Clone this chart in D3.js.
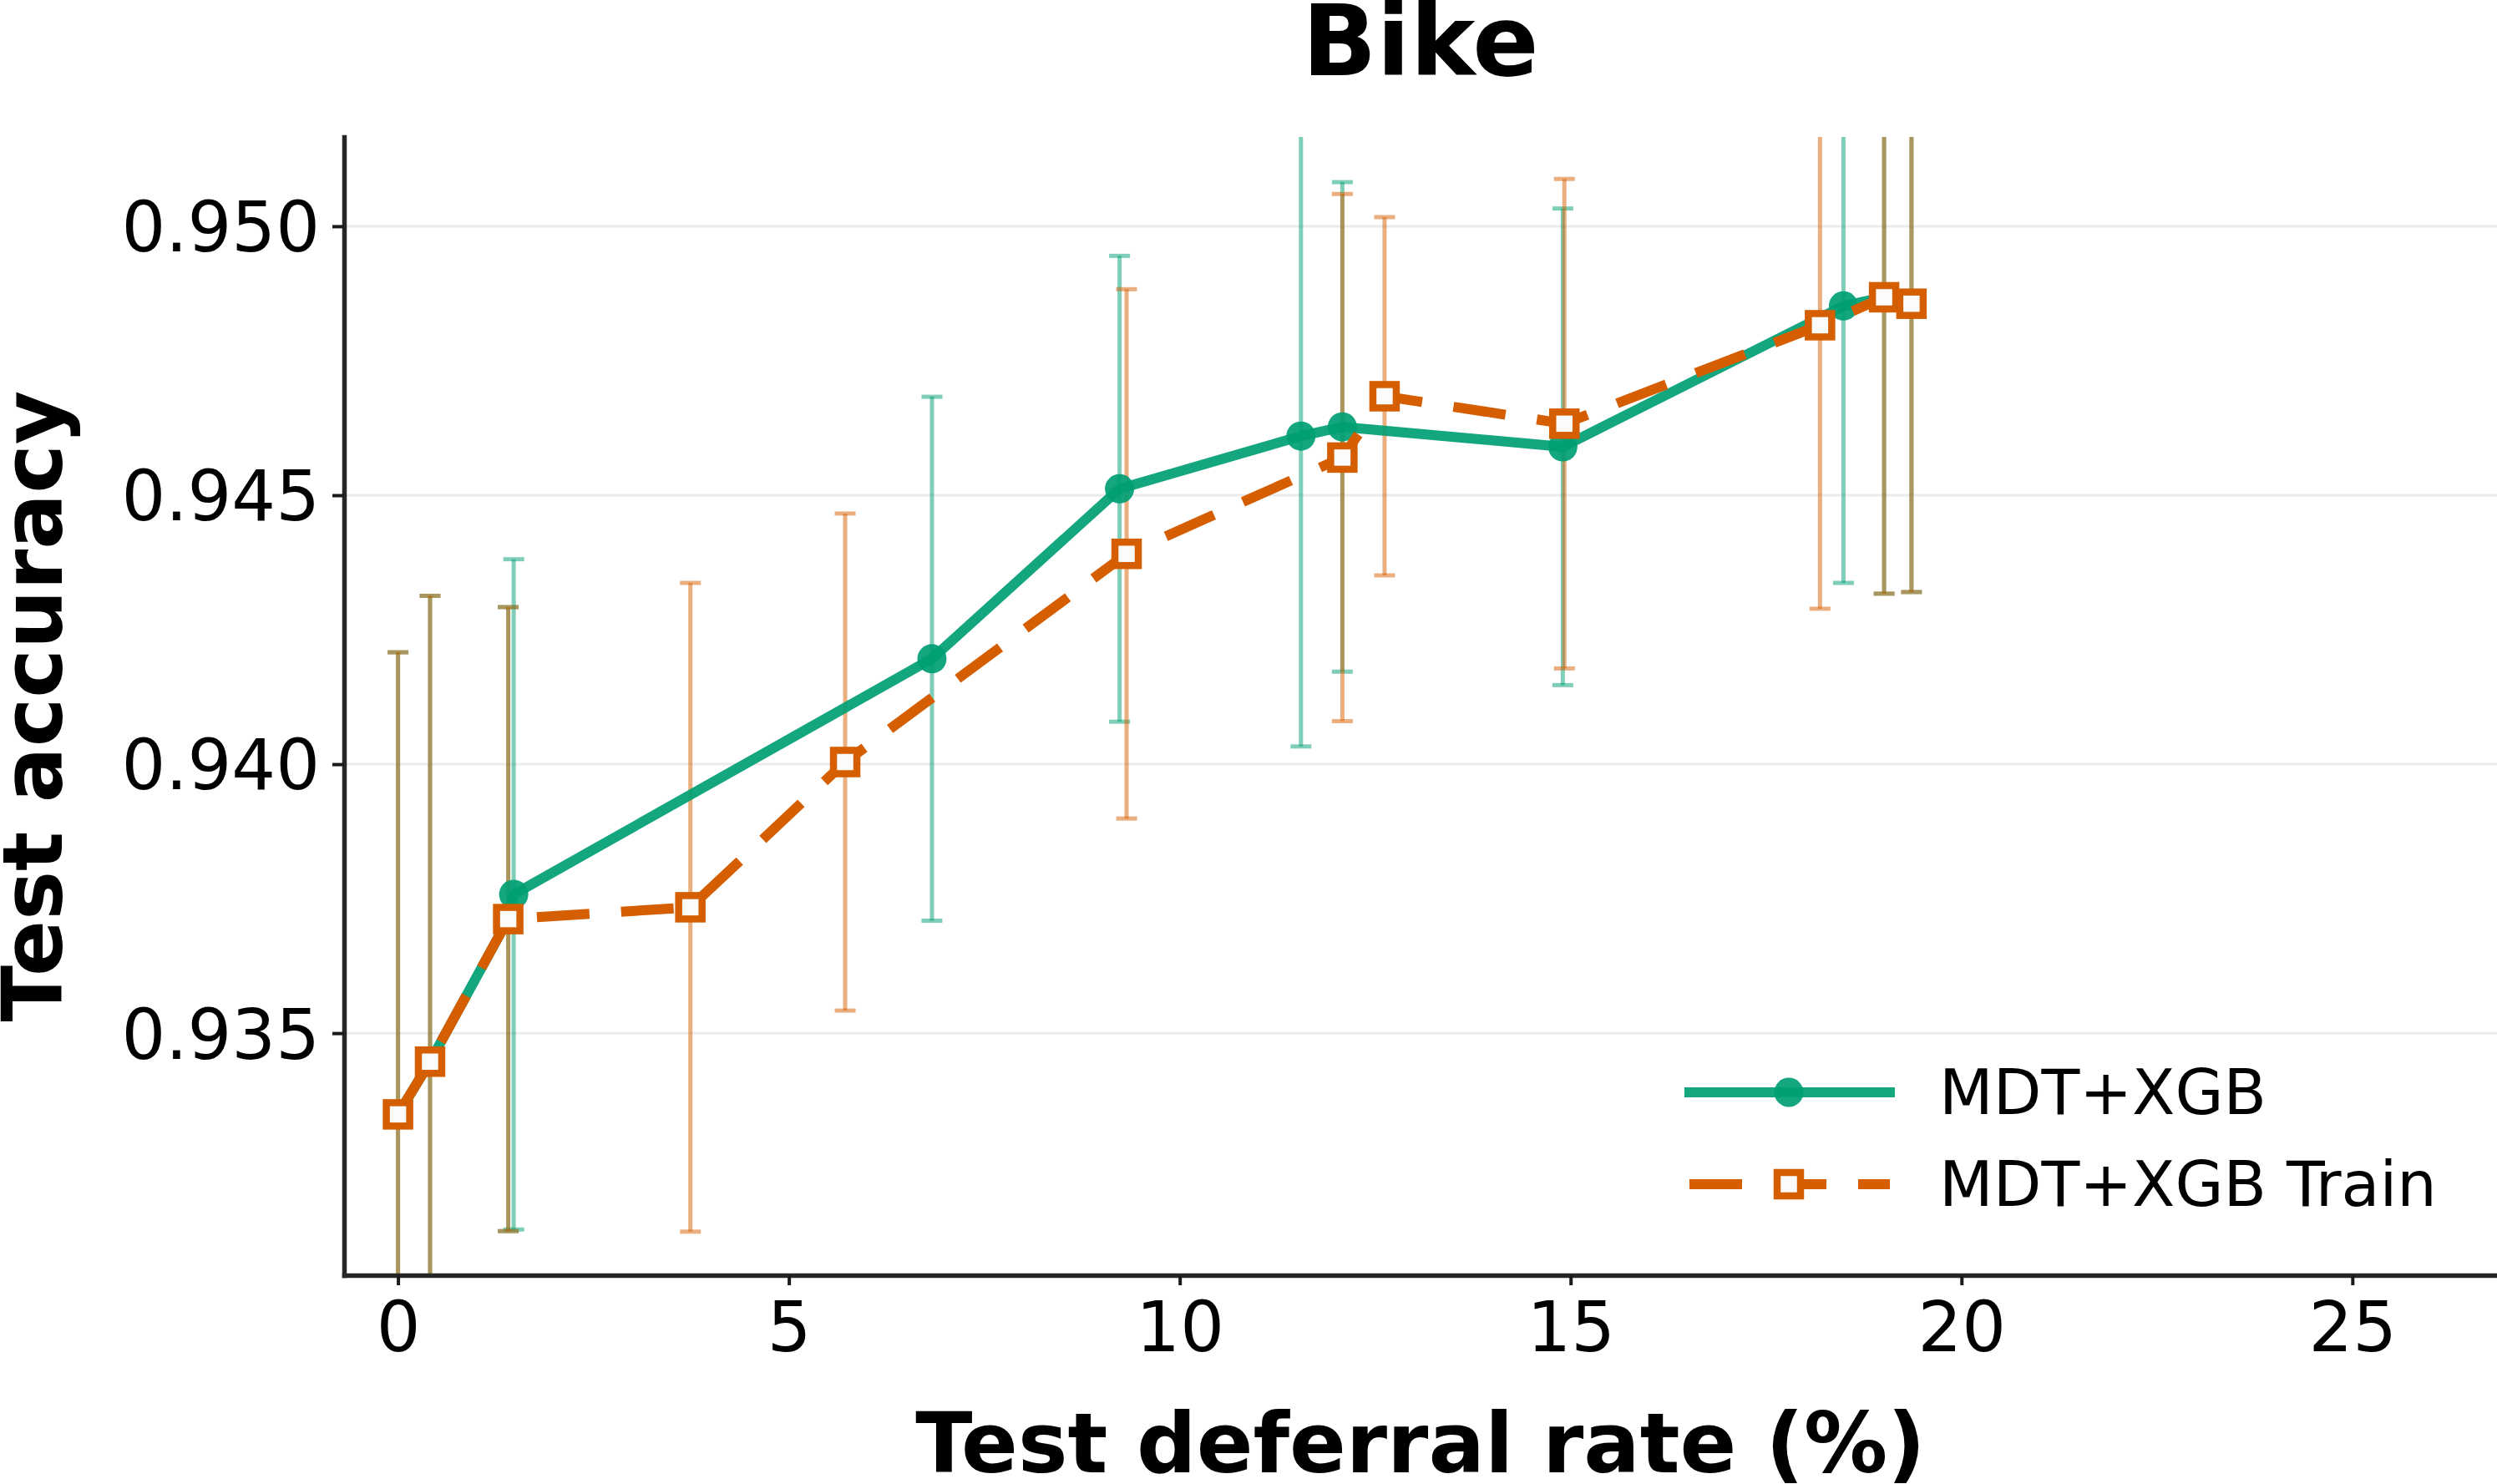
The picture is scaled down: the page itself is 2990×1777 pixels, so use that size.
<!DOCTYPE html>
<html>
<head>
<meta charset="utf-8">
<script src="https://cdn.jsdelivr.net/npm/d3@7"></script>
<style>
    body { margin: 0; background: #fff; }
    text { font-family: "DejaVu Sans", sans-serif; }
</style>
</head>
<body>
<div id="chart"></div>
<script>
// MDT+XGB (test thresholds)
const testRate = [0, 0.41, 1.41, 1.48, 6.83, 9.23, 11.55, 12.08, 14.90, 18.49, 19.01, 19.36];
const testAcc = [0.93349, 0.93447, 0.93712, 0.93758, 0.94196, 0.94512, 0.94610, 0.94627, 0.94590, 0.94852, 0.94868, 0.94856];
const testErr = [0.00859, 0.00866, 0.00580, 0.00623, 0.00487, 0.00433, 0.00577, 0.00455, 0.00443, 0.00515, 0.00551, 0.00536];

// MDT+XGB Train (train thresholds)
const trainRate = [0, 0.41, 1.41, 3.74, 5.72, 9.32, 12.08, 12.62, 14.92, 18.19, 19.01, 19.36];
const trainAcc = [0.93349, 0.93447, 0.93712, 0.93734, 0.94004, 0.94391, 0.94570, 0.94684, 0.94633, 0.94816, 0.94868, 0.94856];
const trainErr = [0.00859, 0.00866, 0.00580, 0.00603, 0.00462, 0.00492, 0.00490, 0.00333, 0.00455, 0.00527, 0.00551, 0.00536];

const xTicks = [0, 5, 10, 15, 20, 25];
const yTicks = [0.935, 0.940, 0.945, 0.950];
const seriesNames = ["MDT+XGB", "MDT+XGB Train"];

const W = 2990, H = 1777;
const plot = { left: 412, right: 2990, top: 164, bottom: 1527 };

const green = "#009E73", orange = "#D55E00";

const svg = d3.select("#chart").append("svg")
    .attr("width", W)
    .attr("height", H);

svg.append("defs").append("clipPath")
    .attr("id", "plotclip")
    .append("rect")
    .attr("x", plot.left).attr("y", plot.top)
    .attr("width", plot.right - plot.left).attr("height", plot.bottom - plot.top);

const x = d3.scaleLinear().domain([-0.69, 26.85]).range([plot.left, plot.right]);
const y = d3.scaleLinear().domain([0.9305, 0.95166]).range([plot.bottom, plot.top]);

const toRows = (xs, ys, es) => xs.map((v, i) => ({ x: v, y: ys[i], e: es[i] }));
const testData = toRows(testRate, testAcc, testErr);
const trainData = toRows(trainRate, trainAcc, trainErr);

// grid
svg.append("g")
    .selectAll("line")
    .data(yTicks)
    .enter()
    .append("line")
    .attr("x1", plot.left).attr("x2", plot.right)
    .attr("y1", d => y(d)).attr("y2", d => y(d))
    .attr("stroke", "#ebebeb")
    .attr("stroke-width", 3);

// error bars (below the lines)
function errorBars(data, color) {
    const g = svg.append("g")
        .attr("clip-path", "url(#plotclip)")
        .attr("stroke", color)
        .attr("stroke-opacity", 0.5)
        .attr("stroke-width", 5);
    data.forEach(d => {
        const bar = g.append("g");
        bar.append("line")
            .attr("x1", x(d.x)).attr("x2", x(d.x))
            .attr("y1", y(d.y - d.e)).attr("y2", y(d.y + d.e));
        [d.y - d.e, d.y + d.e].forEach(v => {
            bar.append("line")
                .attr("x1", x(d.x) - 12.5).attr("x2", x(d.x) + 12.5)
                .attr("y1", y(v)).attr("y2", y(v));
        });
    });
}
errorBars(testData, green);
errorBars(trainData, orange);

const line = d3.line().x(d => x(d.x)).y(d => y(d.y));

// MDT+XGB line and points
svg.append("path")
    .datum(testData)
    .attr("fill", "none")
    .attr("stroke", green)
    .attr("stroke-opacity", 0.92)
    .attr("stroke-width", 12)
    .attr("stroke-linejoin", "round")
    .attr("d", line);

svg.append("g")
    .selectAll("circle")
    .data(testData)
    .enter()
    .append("circle")
    .attr("cx", d => x(d.x))
    .attr("cy", d => y(d.y))
    .attr("r", 17.5)
    .attr("fill", green)
    .attr("fill-opacity", 0.92);

// MDT+XGB Train line and points
svg.append("path")
    .datum(trainData)
    .attr("fill", "none")
    .attr("stroke", orange)
    .attr("stroke-width", 12)
    .attr("stroke-dasharray", "63 38")
    .attr("d", line);

const sq = 28;
svg.append("g")
    .selectAll("rect")
    .data(trainData)
    .enter()
    .append("rect")
    .attr("x", d => x(d.x) - sq / 2)
    .attr("y", d => y(d.y) - sq / 2)
    .attr("width", sq)
    .attr("height", sq)
    .attr("fill", "#fbfbfb")
    .attr("stroke", orange)
    .attr("stroke-width", 8.5);

// axes
const xAxis = svg.append("g")
    .attr("transform", `translate(0,${plot.bottom})`)
    .call(d3.axisBottom(x).tickValues(xTicks).tickSize(12).tickSizeOuter(0).tickPadding(20));

const yAxis = svg.append("g")
    .attr("transform", `translate(${plot.left},0)`)
    .call(d3.axisLeft(y).tickValues(yTicks).tickFormat(d3.format(".3f")).tickSize(14).tickSizeOuter(0).tickPadding(15));

[xAxis, yAxis].forEach(a => {
    a.select(".domain")
        .attr("stroke", "#262626")
        .attr("stroke-width", 5.5)
        .attr("stroke-linecap", "square");
    a.selectAll(".tick line")
        .attr("stroke", "#1a1a1a")
        .attr("stroke-width", 4);
    a.selectAll(".tick text")
        .attr("fill", "#000")
        .style("font-size", "83px")
        .style("font-family", "DejaVu Sans");
});
yAxis.selectAll(".tick text").attr("dy", "0.36em");

// titles
svg.append("text")
    .attr("x", (plot.left + plot.right) / 2)
    .attr("y", 90)
    .attr("text-anchor", "middle")
    .style("font-size", "117px")
    .style("font-weight", "bold")
    .text("Bike");

svg.append("text")
    .attr("x", (plot.left + plot.right) / 2)
    .attr("y", 1763)
    .attr("text-anchor", "middle")
    .style("font-size", "100px")
    .style("font-weight", "bold")
    .text("Test deferral rate (%)");

svg.append("text")
    .attr("transform", `translate(74,${(plot.top + plot.bottom) / 2}) rotate(-90)`)
    .attr("text-anchor", "middle")
    .style("font-size", "99px")
    .style("font-weight", "bold")
    .text("Test accuracy");

// legend
const lx0 = 2023, lx1 = 2263, lxm = 2142;
const legend = svg.append("g");

legend.append("line")
    .attr("x1", lx0).attr("x2", lx1)
    .attr("y1", 1308).attr("y2", 1308)
    .attr("stroke", green)
    .attr("stroke-opacity", 0.92)
    .attr("stroke-width", 12)
    .attr("stroke-linecap", "square");
legend.append("circle")
    .attr("cx", lxm).attr("cy", 1308).attr("r", 17.5)
    .attr("fill", green).attr("fill-opacity", 0.92);

legend.append("line")
    .attr("x1", lx0).attr("x2", lx1)
    .attr("y1", 1418).attr("y2", 1418)
    .attr("stroke", orange)
    .attr("stroke-width", 12)
    .attr("stroke-dasharray", "63 38");
legend.append("rect")
    .attr("x", lxm - sq / 2).attr("y", 1418 - sq / 2)
    .attr("width", sq).attr("height", sq)
    .attr("fill", "#fbfbfb")
    .attr("stroke", orange)
    .attr("stroke-width", 8.5);

legend.selectAll(".legend-label")
    .data(seriesNames)
    .enter()
    .append("text")
    .attr("class", "legend-label")
    .attr("x", 2322)
    .attr("y", (d, i) => 1334 + i * 110)
    .style("font-size", "75px")
    .text(d => d);
</script>
</body>
</html>
